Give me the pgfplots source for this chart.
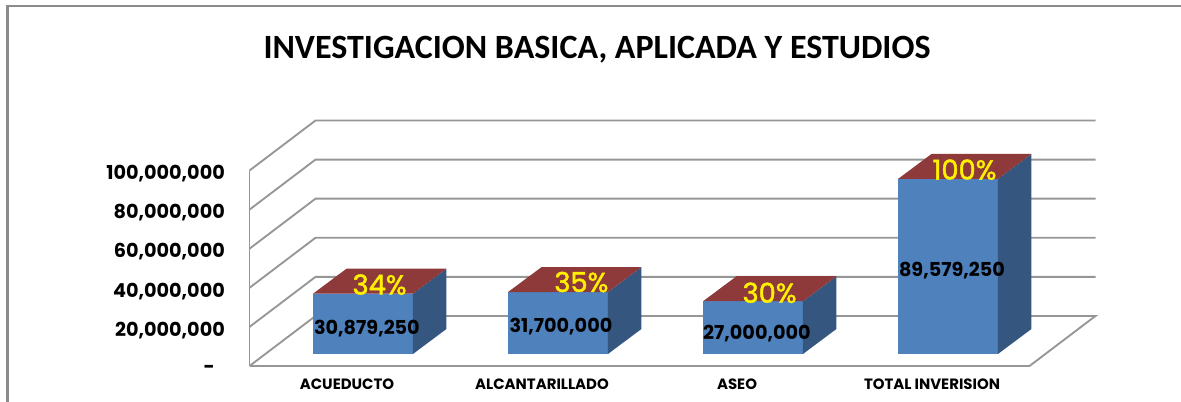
\documentclass[border=0pt]{standalone}
\usepackage{pgfplots}
\pgfplotsset{compat=1.18}
\usepackage{fontspec}
\setmainfont{Poppins}
\newfontfamily\titlefont{Carlito}
\newfontfamily\pctfont{Poppins}[FakeBold=1.6]
\definecolor{gridc}{HTML}{969696}
\definecolor{framec}{HTML}{8C8C8C}
\definecolor{barfront}{HTML}{4F81BD}
\definecolor{barside}{HTML}{34567F}
\definecolor{bartop}{HTML}{8E3A3B}
\begin{document}
\begin{tikzpicture}[x=0.75pt,y=0.75pt]
\path[use as bounding box] (0,0) rectangle (1181,402);
% outer frame and title
\begin{axis}[at={(0pt,0pt)},anchor=south west,scale only axis,width=885.75pt,height=301.5pt,
  xmin=0,xmax=1181,ymin=0,ymax=402,hide axis,clip=false]
\addplot[framec,line width=1.6pt] coordinates {(7.5,0) (7.5,396) (1181,396)};
\node[font=\titlefont\bfseries\fontsize{25.5pt}{30pt}\selectfont,anchor=center] at (axis cs:597,352) {INVESTIGACION BASICA, APLICADA Y ESTUDIOS};
\end{axis}
% walls and category axis
\begin{axis}[at={(187.125pt,27pt)},anchor=south west,scale only axis,width=585pt,height=146.6pt,
  xmin=-0.5,xmax=3.5,ymin=0,ymax=100000000,clip=false,
  axis x line=bottom,axis y line=left,
  axis line style={-,gridc,line width=1.4pt},
  major tick length=0pt,
  xtick={0,1,2,3},xticklabels={ACUEDUCTO,ALCANTARILLADO,ASEO,TOTAL INVERISION},
  ytick={0,20000000,40000000,60000000,80000000,100000000},
  yticklabels={\smash{\raisebox{-3pt}{-}}\kern7.5pt,{20,000,000},{40,000,000},{60,000,000},{80,000,000},{100,000,000}},
  xticklabel style={font=\fontsize{11.2pt}{12pt}\selectfont\bfseries,yshift=-6pt},
  yticklabel style={font=\fontsize{14.4pt}{16pt}\selectfont\bfseries,xshift=-15pt,yshift=-2.5pt},
  scaled y ticks=false]
\addplot[gridc,line width=1.4pt] coordinates {(-0.5,0) (-0.1615,25600000) (3.8385,25600000) (3.5,0)};
\addplot[gridc,line width=1.4pt] coordinates {(-0.5,20000000) (-0.1615,45600000) (3.8385,45600000)};
\addplot[gridc,line width=1.4pt] coordinates {(-0.5,40000000) (-0.1615,65600000) (3.8385,65600000)};
\addplot[gridc,line width=1.4pt] coordinates {(-0.5,60000000) (-0.1615,85600000) (3.8385,85600000)};
\addplot[gridc,line width=1.4pt] coordinates {(-0.5,80000000) (-0.1615,105600000) (3.8385,105600000)};
\addplot[gridc,line width=1.4pt] coordinates {(-0.5,100000000) (-0.1615,125600000) (3.8385,125600000)};
\end{axis}
% bars
\begin{axis}[at={(199.125pt,36pt)},anchor=south west,scale only axis,width=585pt,height=146.6pt,
  xmin=-0.5,xmax=3.5,ymin=0,ymax=100000000,clip=false,hide axis]
\addplot[ybar,bar width=75pt,bar shift=0pt,fill=barfront,draw=none] coordinates {(0,30879250) (1,31700000) (2,27000000) (3,89579250)};
% side faces
\addplot[fill=barside,draw=none] coordinates {(0.256,0) (0.428,12800000) (0.428,43679250) (0.256,30879250)} --cycle;
\addplot[fill=barside,draw=none] coordinates {(1.256,0) (1.428,12800000) (1.428,44500000) (1.256,31700000)} --cycle;
\addplot[fill=barside,draw=none] coordinates {(2.256,0) (2.428,12800000) (2.428,39800000) (2.256,27000000)} --cycle;
\addplot[fill=barside,draw=none] coordinates {(3.256,0) (3.428,12800000) (3.428,102379250) (3.256,89579250)} --cycle;
% top faces
\addplot[fill=bartop,draw=none] coordinates {(-0.256,30879250) (0.256,30879250) (0.428,43679250) (-0.084,43679250)} --cycle;
\addplot[fill=bartop,draw=none] coordinates {(0.744,31700000) (1.256,31700000) (1.428,44500000) (0.916,44500000)} --cycle;
\addplot[fill=bartop,draw=none] coordinates {(1.744,27000000) (2.256,27000000) (2.428,39800000) (1.916,39800000)} --cycle;
\addplot[fill=bartop,draw=none] coordinates {(2.744,89579250) (3.256,89579250) (3.428,102379250) (2.916,102379250)} --cycle;
% value labels
\begin{scope}[every node/.style={font=\fontsize{14.4pt}{16pt}\selectfont\bfseries,black,anchor=center}]
\node at (axis cs:0.02,12800000) {30,879,250};
\node at (axis cs:1.015,13800000) {31,700,000};
\node at (axis cs:2.02,10500000) {27,000,000};
\node at (axis cs:3.02,42500000) {89,579,250};
\end{scope}
\begin{scope}[every node/.style={font=\pctfont\fontsize{20.5pt}{22pt}\selectfont,yellow,anchor=center}]
\node at (axis cs:0.085,35500000) {34\%};
\node at (axis cs:1.12,36800000) {35\%};
\node at (axis cs:2.085,31300000) {30\%};
\node at (axis cs:3.085,94300000) {100\%};
\end{scope}
\end{axis}
\end{tikzpicture}
\end{document}
